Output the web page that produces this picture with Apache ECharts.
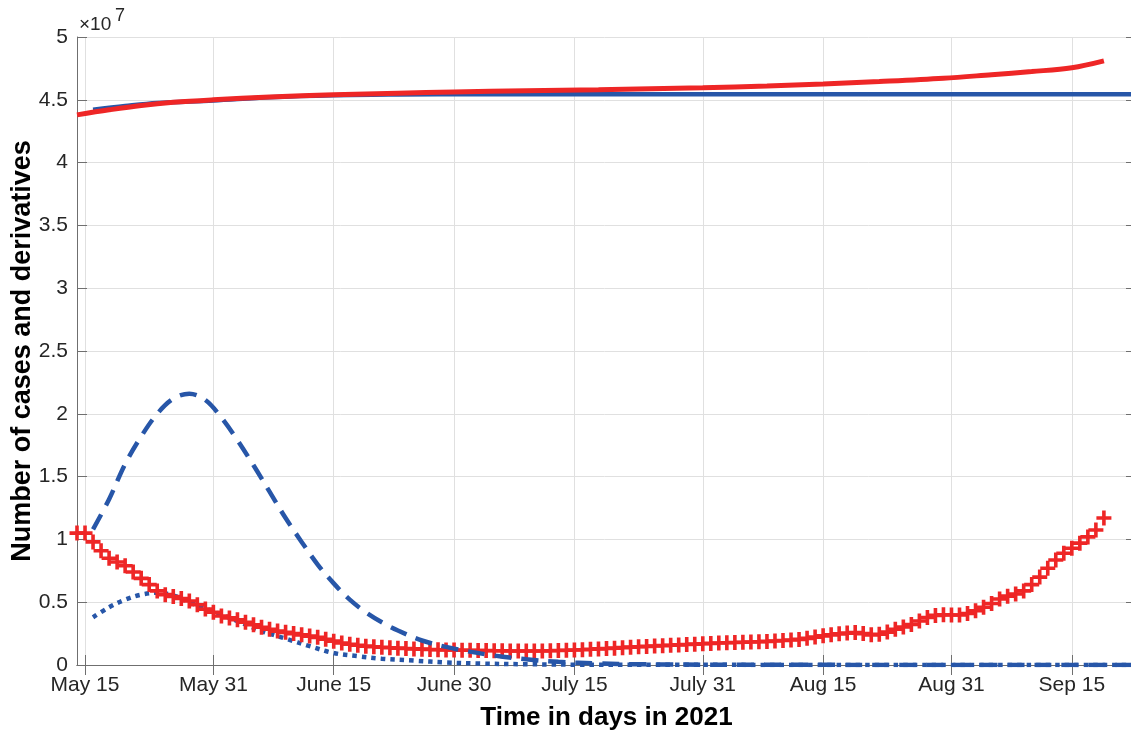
<!DOCTYPE html>
<html>
<head>
<meta charset="utf-8">
<script src="https://cdn.jsdelivr.net/npm/echarts@6/dist/echarts.min.js"></script>
<style>
  html, body { margin: 0; padding: 0; background: #fff; }
  #chart { width: 1131px; height: 734px; }
</style>
</head>
<body>
<div id="chart"></div>
<script>
// x axis: one category per day, index 0 = May 14, index 132 = Sep 23
const dayCount = 133
const days = Array.from({ length: dayCount }, (_, i) => String(i))
const tickIdx = [1, 17, 32, 47, 62, 78, 93, 109, 124]
const tickLabels = ['May 15', 'May 31', 'June 15', 'June 30', 'July 15', 'July 31', 'Aug 15', 'Aug 31', 'Sep 15']

// values in units of 1e7, [dayIndex, value]
const casesFit = [[0, 4.38], [4, 4.42], [8, 4.455], [12, 4.48], [17, 4.50], [24, 4.522], [32, 4.54], [40, 4.553],
  [47, 4.562], [56, 4.572], [65, 4.58], [78, 4.596], [86, 4.61], [93, 4.626], [100, 4.645], [108, 4.671],
  [114, 4.70], [119, 4.725], [124, 4.755], [128, 4.81]]
const casesModel = [[2, 4.42], [6, 4.45], [10, 4.475], [17, 4.495], [24, 4.52], [32, 4.536], [40, 4.542],
  [50, 4.545], [132, 4.545]]
const firstDeriv = [[2, 1.08], [4, 1.32], [6, 1.60], [8, 1.82], [10, 2.00], [12, 2.12], [14, 2.16], [16, 2.11],
  [18, 1.97], [20, 1.79], [22, 1.59], [24, 1.38], [26, 1.17], [28, 0.98], [30, 0.80], [32, 0.65], [34, 0.52],
  [36, 0.42], [38, 0.34], [40, 0.275], [43, 0.195], [47, 0.13], [52, 0.075], [56, 0.045], [60, 0.025],
  [65, 0.012], [70, 0.006], [80, 0.002], [132, 0]]
const secondDeriv = [[2, 0.38], [4, 0.46], [6, 0.52], [8, 0.56], [10, 0.575], [12, 0.555], [14, 0.50], [16, 0.45],
  [18, 0.40], [20, 0.35], [23, 0.27], [26, 0.21], [29, 0.15], [32, 0.095], [35, 0.07], [38, 0.05], [42, 0.035],
  [46, 0.02], [50, 0.012], [56, 0.006], [65, 0.002], [132, 0]]
// daily data derivative (red +), from May 14 onwards
const dailyData = [1.05, 1.05, 0.98, 0.91, 0.85, 0.82, 0.79, 0.74, 0.69, 0.64,
  0.59, 0.56, 0.545, 0.53, 0.51, 0.48, 0.445, 0.42, 0.39, 0.375,
  0.36, 0.34, 0.32, 0.30, 0.285, 0.27, 0.26, 0.25, 0.24, 0.23,
  0.22, 0.205, 0.19, 0.175, 0.165, 0.157, 0.15, 0.145, 0.141, 0.137,
  0.134, 0.131, 0.128, 0.126, 0.124, 0.122, 0.12, 0.119, 0.118, 0.117,
  0.116, 0.115, 0.114, 0.113, 0.112, 0.112, 0.111, 0.111, 0.112, 0.113,
  0.115, 0.117, 0.119, 0.122, 0.125, 0.128, 0.131, 0.134, 0.138, 0.142,
  0.145, 0.148, 0.151, 0.154, 0.157, 0.16, 0.163, 0.166, 0.169, 0.172,
  0.175, 0.177, 0.179, 0.181, 0.183, 0.185, 0.188, 0.191, 0.195, 0.199,
  0.204, 0.212, 0.222, 0.232, 0.24, 0.248, 0.254, 0.258, 0.25, 0.24,
  0.245, 0.262, 0.285, 0.303, 0.322, 0.35, 0.378, 0.395, 0.40, 0.398,
  0.398, 0.41, 0.432, 0.46, 0.49, 0.525, 0.548, 0.565, 0.59, 0.64,
  0.70, 0.77, 0.836, 0.89, 0.93, 0.97, 1.02, 1.075, 1.17]

const RED = '#ee2626'
const BLUE = '#2756a8'
const AXIS = '#6f6f6f'
const TEXT = '#262626'
const FONT = '"Liberation Sans", Arial, Helvetica, sans-serif'

const isTick = idx => tickIdx.indexOf(idx) >= 0
const plus = 'path://M5.7,0 H9.3 V5.7 H15 V9.3 H9.3 V15 H5.7 V9.3 H0 V5.7 H5.7 Z'

const chart = echarts.init(document.getElementById('chart'))
chart.setOption({
  animation: false,
  backgroundColor: '#fff',
  grid: { left: 77, right: -5, top: 37, bottom: 69, containLabel: false, outerBoundsMode: 'none' },
  graphic: [
    { type: 'text', left: 79, top: 15, style: { text: '×10', font: '19px ' + FONT, fill: TEXT } },
    { type: 'text', left: 115, top: 7, style: { text: '7', font: '18px ' + FONT, fill: TEXT } },
  ],
  xAxis: [
    {
      type: 'category',
      data: days,
      boundaryGap: false,
      name: 'Time in days in 2021',
      nameLocation: 'middle',
      nameGap: 40,
      nameMoveOverlap: false,
      nameTextStyle: { fontFamily: FONT, fontSize: 26, fontWeight: 'bold', color: '#000' },
      axisLine: { lineStyle: { color: AXIS, width: 1 } },
      axisTick: { inside: true, length: 10, interval: isTick, lineStyle: { color: AXIS } },
      axisLabel: {
        interval: isTick,
        margin: 10,
        color: TEXT,
        fontFamily: FONT,
        fontSize: 21,
        formatter: (v, i) => tickLabels[tickIdx.indexOf(i)] || '',
      },
      splitLine: { show: true, interval: isTick, lineStyle: { color: '#e0e0e0', width: 1 } },
    },
    {
      type: 'category',
      data: days,
      boundaryGap: false,
      position: 'top',
      axisLine: { lineStyle: { color: AXIS, width: 1 } },
      axisTick: { inside: true, length: 10, interval: isTick, lineStyle: { color: AXIS } },
      axisLabel: { show: false },
      splitLine: { show: false },
    },
  ],
  yAxis: [
    {
      type: 'value',
      min: 0,
      max: 5,
      interval: 0.5,
      name: 'Number of cases and derivatives',
      nameLocation: 'middle',
      nameGap: 41,
      nameMoveOverlap: false,
      nameTextStyle: { fontFamily: FONT, fontSize: 27, fontWeight: 'bold', color: '#000' },
      axisLine: { show: true, lineStyle: { color: AXIS, width: 1 } },
      axisTick: { show: true, inside: true, length: 10, lineStyle: { color: AXIS } },
      axisLabel: { margin: 9, color: TEXT, fontFamily: FONT, fontSize: 21 },
      splitLine: { show: true, lineStyle: { color: '#e0e0e0', width: 1 } },
    },
    {
      type: 'value',
      min: 0,
      max: 5,
      interval: 0.5,
      position: 'right',
      axisLine: { show: true, lineStyle: { color: AXIS, width: 1 } },
      axisTick: { show: true, inside: true, length: 10, lineStyle: { color: AXIS } },
      axisLabel: { show: false },
      splitLine: { show: false },
    },
  ],
  series: [
    {
      name: 'second derivative',
      type: 'line',
      data: secondDeriv,
      smooth: 0.35,
      showSymbol: false,
      lineStyle: { color: BLUE, width: 4.5, type: [4.5, 5], cap: 'butt' },
      z: 2,
    },
    {
      name: 'daily data',
      type: 'scatter',
      data: dailyData.map((v, i) => [i, v]),
      symbol: plus,
      symbolSize: 15,
      itemStyle: { color: RED, opacity: 1 },
      z: 3,
    },
    {
      name: 'first derivative',
      type: 'line',
      data: firstDeriv,
      smooth: 0.35,
      showSymbol: false,
      lineStyle: { color: BLUE, width: 4.5, type: [17, 10], cap: 'butt' },
      z: 4,
    },
    {
      name: 'model',
      type: 'line',
      data: casesModel,
      smooth: 0.35,
      showSymbol: false,
      lineStyle: { color: BLUE, width: 4.5 },
      z: 5,
    },
    {
      name: 'fit',
      type: 'line',
      data: casesFit,
      smooth: 0.35,
      showSymbol: false,
      lineStyle: { color: RED, width: 5 },
      z: 6,
    },
  ],
})
</script>
</body>
</html>
